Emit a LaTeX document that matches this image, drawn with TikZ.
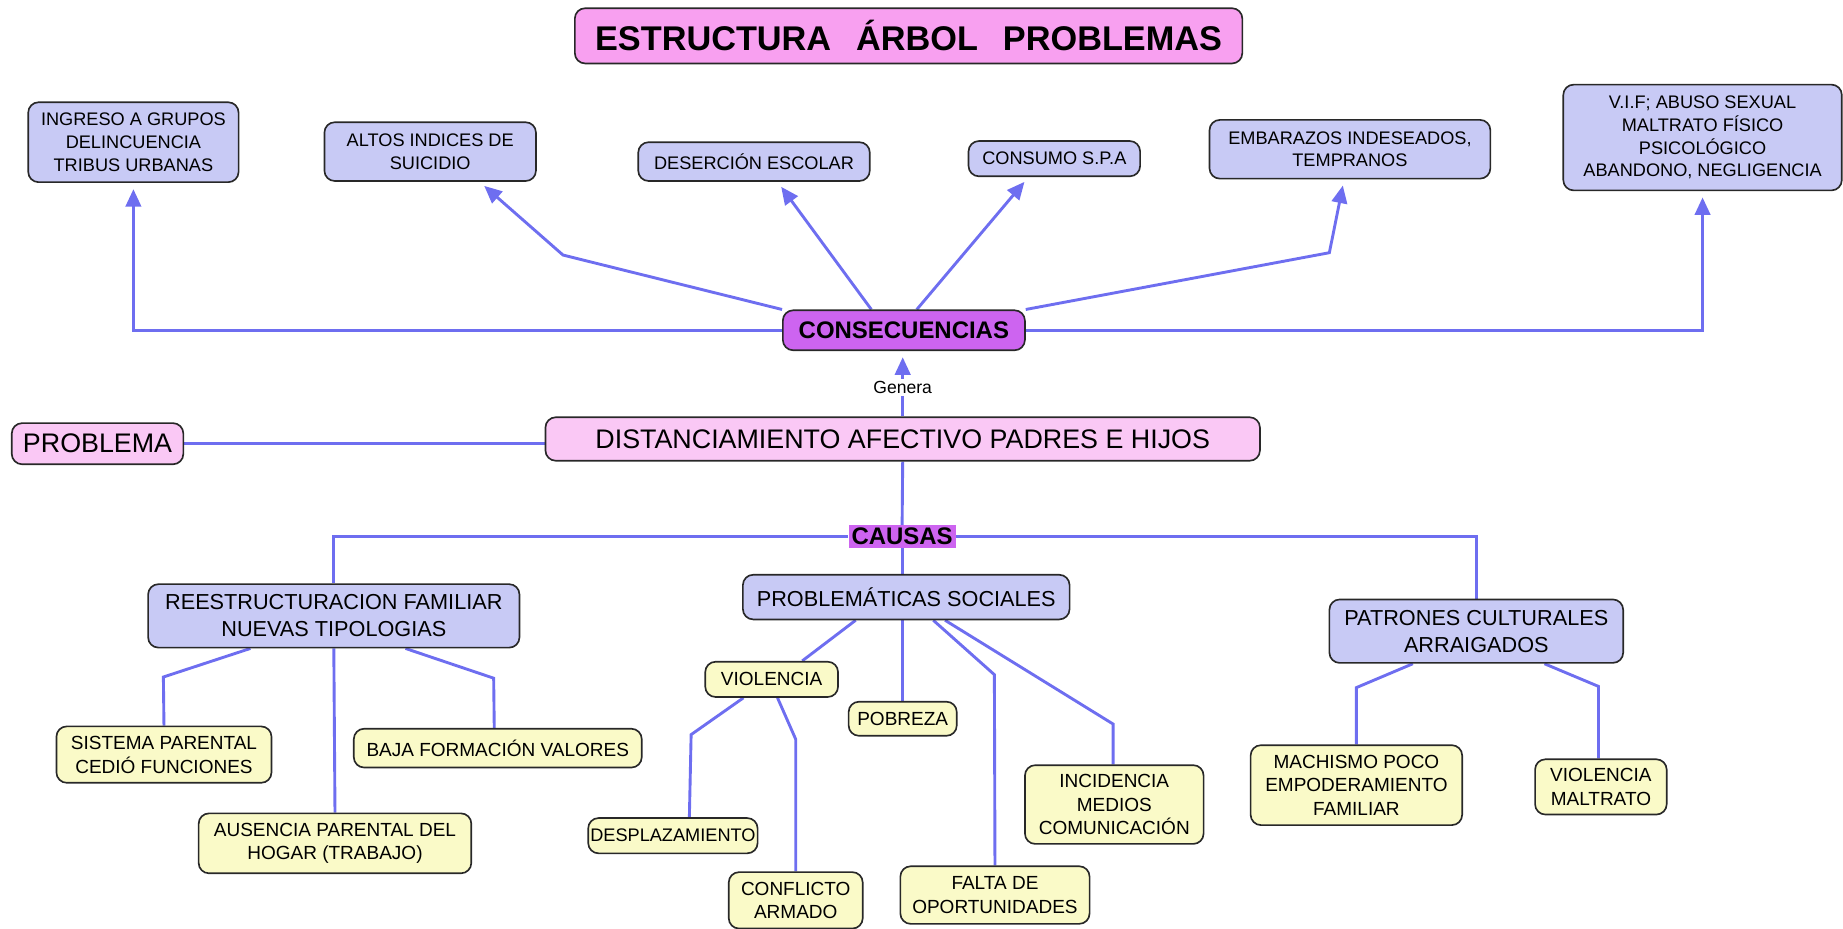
\documentclass[tikz,border=0pt]{standalone}
\usepackage{fontspec}
\setmainfont{Liberation Sans}
\usepackage{xcolor}
\usetikzlibrary{arrows.meta, calc, backgrounds}
\definecolor{linkblue}{RGB}{110, 110, 240}
\definecolor{lavender}{RGB}{200, 202, 245}
\definecolor{paleyellow}{RGB}{250, 250, 200}
\definecolor{titlepink}{RGB}{248, 160, 240}
\definecolor{softpink}{RGB}{250, 200, 245}
\definecolor{headviolet}{RGB}{205, 100, 240}
\definecolor{edgegray}{RGB}{40, 40, 40}

\begin{document}
\begin{tikzpicture}[
    x=0.02cm, y=-0.02cm,
    every node/.style={align=center, inner sep=2pt},
    titlebox/.style={draw=edgegray, fill=titlepink, rounded corners=5pt, line width=0.8pt, font=\fontsize{16.6}{20}\selectfont\bfseries},
    pinkbox/.style={draw=edgegray, fill=softpink, rounded corners=5pt, line width=0.8pt, font=\fontsize{13}{15}\selectfont},
    headbox/.style={draw=edgegray, fill=headviolet, rounded corners=5pt, line width=0.8pt, font=\fontsize{11.6}{14}\selectfont\bfseries},
    effect/.style={draw=edgegray, fill=lavender, rounded corners=5pt, line width=0.8pt, font=\fontsize{8.8}{11}\selectfont},
    cause/.style={draw=edgegray, fill=lavender, rounded corners=5pt, line width=0.8pt, font=\fontsize{10.5}{13}\selectfont},
    subcause/.style={draw=edgegray, fill=paleyellow, rounded corners=5pt, line width=0.8pt, font=\fontsize{9.2}{11.5}\selectfont},
    arr/.style={-{Triangle[length=8.5pt, width=7.5pt]}, line width=1.4pt, draw=linkblue, shorten >=3pt},
    link/.style={line width=1.4pt, draw=linkblue}
]
\useasboundingbox (0,0) rectangle (1568,790);

% Title
\node[titlebox, minimum width=11.36cm, minimum height=0.94cm] (title) at (773,30.5) {ESTRUCTURA\hspace{0.45em} ÁRBOL\hspace{0.45em} PROBLEMAS};

% Row 1: consequences
\node[effect, minimum width=3.58cm, minimum height=1.36cm] (ingreso) at (113.5,121) {INGRESO A GRUPOS\\DELINCUENCIA\\TRIBUS URBANAS};
\node[effect, minimum width=3.6cm, minimum height=1.0cm] (altos) at (366,129) {ALTOS INDICES DE\\SUICIDIO};
\node[effect, minimum width=3.94cm, minimum height=0.66cm] (desercion) at (641.5,137.5) {DESERCIÓN ESCOLAR};
\node[effect, minimum width=2.92cm, minimum height=0.6cm] (consumo) at (897,135) {CONSUMO S.P.A};
\node[effect, minimum width=4.78cm, minimum height=1.0cm] (embarazos) at (1148.5,127) {EMBARAZOS INDESEADOS,\\TEMPRANOS};
\node[effect, minimum width=4.74cm, minimum height=1.8cm] (vif) at (1448.5,117) {V.I.F; ABUSO SEXUAL\\MALTRATO FÍSICO\\PSICOLÓGICO\\ABANDONO, NEGLIGENCIA};

% Row 2: problem
\node[headbox, minimum width=4.12cm, minimum height=0.68cm] (consec) at (769,281) {CONSECUENCIAS};
\node[pinkbox, minimum width=2.92cm, minimum height=0.7cm] (problema) at (83,377.5) {PROBLEMA};
\node[pinkbox, minimum width=12.16cm, minimum height=0.74cm] (distanc) at (768,373.5) {DISTANCIAMIENTO AFECTIVO PADRES E HIJOS};
\node[fill=headviolet, minimum width=1.82cm, minimum height=0.38cm, inner sep=0pt, font=\fontsize{11.6}{14}\selectfont\bfseries] (causas) at (767.5,456.5) {CAUSAS};

% Row 3: causes
\node[cause, minimum width=6.32cm, minimum height=1.08cm] (reest) at (284,524) {REESTRUCTURACION FAMILIAR\\NUEVAS TIPOLOGIAS};
\node[cause, minimum width=5.56cm, minimum height=0.76cm] (probsoc) at (771,508) {PROBLEMÁTICAS SOCIALES};
\node[cause, minimum width=5.0cm, minimum height=1.08cm] (patrones) at (1256,537) {PATRONES CULTURALES\\ARRAIGADOS};

% Row 4: sub-causes
\node[subcause, minimum width=3.66cm, minimum height=0.96cm] (sistema) at (139.5,642) {SISTEMA PARENTAL\\CEDIÓ FUNCIONES};
\node[subcause, minimum width=4.64cm, minimum height=1.02cm] (ausencia) at (285,717.5) {AUSENCIA PARENTAL DEL\\HOGAR (TRABAJO)};
\node[subcause, minimum width=4.9cm, minimum height=0.66cm] (baja) at (423.5,636.5) {BAJA FORMACIÓN VALORES};
\node[subcause, minimum width=2.26cm, minimum height=0.6cm] (violencia) at (656.5,578) {VIOLENCIA};
\node[subcause, minimum width=1.84cm, minimum height=0.58cm] (pobreza) at (768,611.5) {POBREZA};
\node[subcause, minimum width=3.22cm, minimum height=0.98cm] (falta) at (846.5,761.5) {FALTA DE\\OPORTUNIDADES};
\node[subcause, minimum width=3.04cm, minimum height=1.34cm] (incid) at (948,684.5) {INCIDENCIA\\MEDIOS\\COMUNICACIÓN};
\node[subcause, minimum width=2.86cm, minimum height=0.6cm, inner sep=1pt, font=\fontsize{8.8}{11}\selectfont] (desplaz) at (572.5,711) {DESPLAZAMIENTO};
\node[subcause, minimum width=2.28cm, minimum height=0.96cm] (conflicto) at (677,766) {CONFLICTO\\ARMADO};
\node[subcause, minimum width=3.6cm, minimum height=1.36cm] (machismo) at (1154,668) {MACHISMO POCO\\EMPODERAMIENTO\\FAMILIAR};
\node[subcause, minimum width=2.24cm, minimum height=0.94cm] (vmaltrato) at (1362,669.5) {VIOLENCIA\\MALTRATO};

% Connectors
\begin{scope}[on background layer]
\draw[arr] (consec.west) -| (ingreso.south);
\draw[arr] (consec.north west) -- (479,217) -- ($(altos.south)+(42,0)$);
\draw[arr] ($(consec.north west)+(76,0)$) -- ($(desercion.south)+(20,0)$);
\draw[arr] ($(consec.north)+(11,0)$) -- ($(consumo.south)+(-22,0)$);
\draw[arr] (consec.north east) -- (1131,215) -- ($(embarazos.south)+(-5,0)$);
\draw[arr] (consec.east) -| (vif.south);
\draw[arr] (distanc.north) -- node[pos=0.44, fill=white, inner sep=1pt, font=\fontsize{8.5}{10}\selectfont]{Genera} (distanc.north |- consec.south);

\draw[link] (problema.east) -- (problema.east -| distanc.west);
\draw[link] (distanc.south) -- (causas.north);
\draw[link] (causas.west) -| (reest.north);
\draw[link] (causas.east) -| (patrones.north);
\draw[link] (causas.south) -- (causas.south |- probsoc.north);

\draw[link] ($(reest.south)+(-71,0)$) -- (139,576) -- (sistema.north);
\draw[link] (reest.south) -- (ausencia.north);
\draw[link] ($(reest.south)+(61,0)$) -- (420,577) -- ($(baja.north)+(-3,0)$);

\draw[link] ($(probsoc.south)+(-43,0)$) -- ($(violencia.north)+(26,0)$);
\draw[link] ($(probsoc.south)+(-3,0)$) -- (pobreza.north);
\draw[link] ($(probsoc.south)+(23,0)$) -- (846,574) -- (falta.north);
\draw[link] ($(probsoc.south)+(33,0)$) -- (947,616) -- ($(incid.north)+(-1,0)$);
\draw[link] ($(violencia.south)+(-24,0)$) -- (588,625) -- ($(desplaz.north)+(14,0)$);
\draw[link] ($(violencia.south)+(5,0)$) -- (677,629) -- (conflicto.north);

\draw[link] ($(patrones.south)+(-54,0)$) -- (1154,585) -- (machismo.north);
\draw[link] ($(patrones.south)+(58,0)$) -- (1360,584) -- ($(vmaltrato.north)+(-2,0)$);
\end{scope}

\end{tikzpicture}
\end{document}
